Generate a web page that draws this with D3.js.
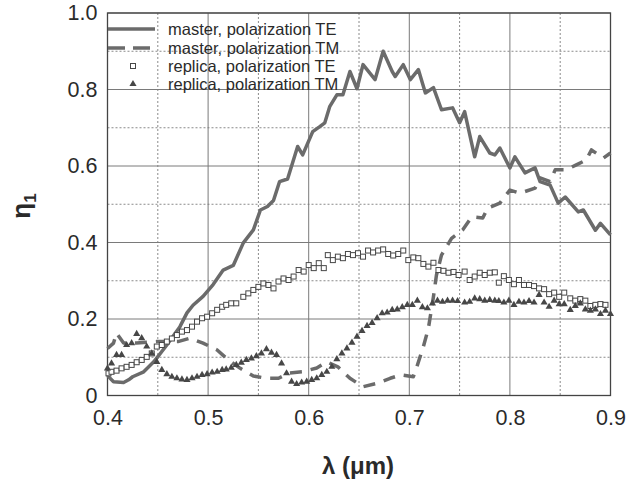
<!DOCTYPE html>
<html>
<head>
<meta charset="utf-8">
<script src="https://cdn.jsdelivr.net/npm/d3@7"></script>
<style>
  body { margin: 0; background: #fff; }
  text { font-family: "Liberation Sans", Arial, sans-serif; fill: #2a2a2a; }
</style>
</head>
<body>
<script>
// values: [wavelength (um), efficiency]
var masterTE = [
  [0.400, 0.052], [0.406, 0.036], [0.416, 0.034], [0.421, 0.041], [0.425, 0.049],
  [0.436, 0.062], [0.446, 0.088], [0.459, 0.132], [0.465, 0.154], [0.472, 0.180],
  [0.479, 0.216], [0.485, 0.236], [0.495, 0.259], [0.505, 0.290], [0.515, 0.328],
  [0.525, 0.340], [0.535, 0.399], [0.545, 0.433], [0.552, 0.485], [0.559, 0.494],
  [0.565, 0.510], [0.571, 0.559], [0.579, 0.566], [0.589, 0.651], [0.594, 0.629],
  [0.604, 0.690], [0.611, 0.703], [0.616, 0.713], [0.621, 0.756], [0.628, 0.786],
  [0.634, 0.786], [0.641, 0.847], [0.648, 0.802], [0.654, 0.865], [0.666, 0.826],
  [0.674, 0.900], [0.683, 0.847], [0.686, 0.834], [0.694, 0.865], [0.701, 0.826],
  [0.709, 0.852], [0.716, 0.791], [0.724, 0.805], [0.732, 0.747], [0.743, 0.752],
  [0.750, 0.713], [0.755, 0.742], [0.765, 0.624], [0.770, 0.677], [0.780, 0.634],
  [0.785, 0.629], [0.790, 0.647], [0.800, 0.595], [0.805, 0.624], [0.815, 0.582],
  [0.825, 0.595], [0.830, 0.559], [0.840, 0.550], [0.848, 0.503], [0.855, 0.519],
  [0.868, 0.480], [0.873, 0.485], [0.885, 0.432], [0.890, 0.450], [0.900, 0.420]
];

var masterTM = [
  [0.400, 0.123], [0.406, 0.137], [0.409, 0.163], [0.416, 0.137], [0.429, 0.137],
  [0.449, 0.141], [0.459, 0.141], [0.470, 0.141], [0.482, 0.150], [0.495, 0.137],
  [0.509, 0.119], [0.520, 0.093], [0.532, 0.071], [0.545, 0.051], [0.558, 0.045],
  [0.570, 0.045], [0.581, 0.059], [0.594, 0.062], [0.608, 0.072], [0.618, 0.088],
  [0.629, 0.075], [0.641, 0.045], [0.654, 0.023], [0.668, 0.032], [0.681, 0.045],
  [0.692, 0.054], [0.704, 0.049], [0.707, 0.071], [0.714, 0.128], [0.719, 0.176],
  [0.724, 0.258], [0.727, 0.315], [0.732, 0.367], [0.742, 0.411], [0.753, 0.433],
  [0.762, 0.467], [0.773, 0.464], [0.778, 0.490], [0.790, 0.503], [0.800, 0.537],
  [0.810, 0.529], [0.825, 0.542], [0.830, 0.569], [0.840, 0.559], [0.845, 0.590],
  [0.856, 0.590], [0.866, 0.603], [0.876, 0.616], [0.881, 0.642], [0.893, 0.621],
  [0.900, 0.634]
];

var replicaTE = [
  [0.401, 0.058], [0.404, 0.062], [0.409, 0.065], [0.414, 0.071], [0.419, 0.075],
  [0.424, 0.080], [0.429, 0.087], [0.434, 0.093], [0.439, 0.101], [0.444, 0.110],
  [0.449, 0.128], [0.454, 0.132], [0.459, 0.141], [0.464, 0.149], [0.469, 0.158],
  [0.474, 0.167], [0.479, 0.171], [0.484, 0.180], [0.489, 0.193], [0.494, 0.202],
  [0.499, 0.206], [0.504, 0.215], [0.509, 0.224], [0.514, 0.232], [0.518, 0.237],
  [0.523, 0.241], [0.528, 0.241], [0.535, 0.258], [0.540, 0.267], [0.545, 0.276],
  [0.550, 0.284], [0.555, 0.293], [0.560, 0.289], [0.565, 0.280], [0.570, 0.298],
  [0.575, 0.306], [0.580, 0.302], [0.585, 0.311], [0.590, 0.328], [0.595, 0.324],
  [0.600, 0.341], [0.605, 0.333], [0.610, 0.346], [0.615, 0.333], [0.619, 0.367],
  [0.624, 0.354], [0.629, 0.363], [0.634, 0.359], [0.639, 0.370], [0.644, 0.367],
  [0.649, 0.372], [0.654, 0.363], [0.659, 0.379], [0.664, 0.374], [0.669, 0.379],
  [0.674, 0.382], [0.679, 0.370], [0.684, 0.366], [0.689, 0.370], [0.694, 0.379],
  [0.699, 0.354], [0.704, 0.361], [0.709, 0.359], [0.714, 0.344], [0.719, 0.337],
  [0.724, 0.347], [0.729, 0.328], [0.734, 0.326], [0.739, 0.321], [0.744, 0.323],
  [0.749, 0.315], [0.755, 0.324], [0.760, 0.302], [0.765, 0.311], [0.770, 0.321],
  [0.775, 0.315], [0.780, 0.321], [0.785, 0.322], [0.789, 0.295], [0.794, 0.312],
  [0.799, 0.302], [0.804, 0.291], [0.809, 0.302], [0.814, 0.289], [0.819, 0.289],
  [0.824, 0.286], [0.829, 0.280], [0.834, 0.278], [0.839, 0.265], [0.844, 0.269],
  [0.849, 0.258], [0.854, 0.269], [0.860, 0.254], [0.865, 0.248], [0.870, 0.252],
  [0.875, 0.248], [0.880, 0.234], [0.885, 0.237], [0.890, 0.239], [0.895, 0.237]
];

var replicaTM = [
  [0.400, 0.071], [0.404, 0.084], [0.409, 0.106], [0.414, 0.106], [0.419, 0.132],
  [0.424, 0.137], [0.429, 0.161], [0.434, 0.150], [0.439, 0.128], [0.444, 0.110],
  [0.449, 0.088], [0.454, 0.067], [0.459, 0.056], [0.464, 0.049], [0.469, 0.045],
  [0.474, 0.042], [0.479, 0.041], [0.484, 0.045], [0.489, 0.049], [0.494, 0.054],
  [0.499, 0.056], [0.504, 0.060], [0.509, 0.062], [0.514, 0.067], [0.518, 0.068],
  [0.523, 0.073], [0.528, 0.080], [0.533, 0.086], [0.538, 0.093], [0.543, 0.097],
  [0.548, 0.103], [0.553, 0.110], [0.558, 0.121], [0.563, 0.112], [0.568, 0.106],
  [0.573, 0.084], [0.578, 0.058], [0.583, 0.036], [0.588, 0.030], [0.593, 0.034],
  [0.598, 0.036], [0.603, 0.041], [0.608, 0.045], [0.613, 0.054], [0.618, 0.062],
  [0.623, 0.075], [0.628, 0.095], [0.633, 0.110], [0.638, 0.123], [0.643, 0.138],
  [0.648, 0.154], [0.653, 0.169], [0.658, 0.182], [0.663, 0.190], [0.668, 0.202],
  [0.673, 0.215], [0.678, 0.217], [0.683, 0.224], [0.688, 0.225], [0.693, 0.231],
  [0.698, 0.237], [0.703, 0.237], [0.708, 0.248], [0.713, 0.231], [0.718, 0.228],
  [0.723, 0.241], [0.728, 0.248], [0.733, 0.245], [0.738, 0.248], [0.743, 0.248],
  [0.748, 0.247], [0.755, 0.243], [0.760, 0.245], [0.765, 0.254], [0.770, 0.252],
  [0.775, 0.248], [0.780, 0.250], [0.785, 0.248], [0.789, 0.247], [0.794, 0.243],
  [0.799, 0.248], [0.804, 0.237], [0.809, 0.245], [0.814, 0.243], [0.819, 0.247],
  [0.824, 0.243], [0.829, 0.263], [0.834, 0.243], [0.839, 0.232], [0.844, 0.248],
  [0.849, 0.239], [0.854, 0.239], [0.860, 0.224], [0.865, 0.234], [0.870, 0.241],
  [0.875, 0.225], [0.880, 0.222], [0.885, 0.225], [0.890, 0.213], [0.895, 0.222],
  [0.900, 0.213]
];

var xMajor = [0.4, 0.5, 0.6, 0.7, 0.8, 0.9];
var xMinor = [0.45, 0.55, 0.65, 0.75, 0.85];
var yMajor = [0, 0.2, 0.4, 0.6, 0.8, 1.0];
var yMinor = [0.1, 0.3, 0.5, 0.7, 0.9];
var legendLabels = [
  "master, polarization TE",
  "master, polarization TM",
  "replica, polarization TE",
  "replica, polarization TM"
];

var W = 627, H = 485;
var pLeft = 107.5, pRight = 610.5, pTop = 13, pBottom = 395.5;
var lineGray = "#6b6b6b", markGray = "#474747";

var svg = d3.select("body").append("svg")
  .attr("width", W)
  .attr("height", H);

var x = d3.scaleLinear().domain([0.4, 0.9]).range([pLeft, pRight]);
var y = d3.scaleLinear().domain([0, 1]).range([pBottom, pTop]);

// grid
var grid = svg.append("g");
grid.selectAll(".xminor").data(xMinor).enter().append("line")
  .attr("x1", function(d){ return x(d); }).attr("x2", function(d){ return x(d); })
  .attr("y1", pTop).attr("y2", pBottom)
  .attr("stroke", "#8a8a8a").attr("stroke-width", 1).attr("stroke-dasharray", "2,2");
grid.selectAll(".yminor").data(yMinor).enter().append("line")
  .attr("x1", pLeft).attr("x2", pRight)
  .attr("y1", function(d){ return y(d); }).attr("y2", function(d){ return y(d); })
  .attr("stroke", "#8a8a8a").attr("stroke-width", 1).attr("stroke-dasharray", "2,2");
grid.selectAll(".xmajor").data(xMajor).enter().append("line")
  .attr("x1", function(d){ return x(d); }).attr("x2", function(d){ return x(d); })
  .attr("y1", pTop).attr("y2", pBottom)
  .attr("stroke", "#7a7a7a").attr("stroke-width", 1);
grid.selectAll(".ymajor").data(yMajor).enter().append("line")
  .attr("x1", pLeft).attr("x2", pRight)
  .attr("y1", function(d){ return y(d); }).attr("y2", function(d){ return y(d); })
  .attr("stroke", "#7a7a7a").attr("stroke-width", 1);

svg.append("rect")
  .attr("x", pLeft).attr("y", pTop)
  .attr("width", pRight - pLeft).attr("height", pBottom - pTop)
  .attr("fill", "none").attr("stroke", "#444").attr("stroke-width", 1.3);

// axes labels
var xAxis = d3.axisBottom(x).tickValues(xMajor).tickSize(0).tickPadding(14)
  .tickFormat(d3.format(".1f"));
var gx = svg.append("g").attr("transform", "translate(0," + pBottom + ")").call(xAxis);
gx.select(".domain").remove();
gx.selectAll("text").style("font-size", "21.5px").attr("fill", "#2a2a2a");

var yAxis = d3.axisLeft(y).tickValues(yMajor).tickSize(0).tickPadding(10)
  .tickFormat(function(d){ return d === 0 ? "0" : d3.format(".1f")(d); });
var gy = svg.append("g").attr("transform", "translate(" + pLeft + ",0)").call(yAxis);
gy.select(".domain").remove();
gy.selectAll("text").style("font-size", "21.5px").attr("fill", "#2a2a2a");

svg.append("text")
  .attr("x", 358).attr("y", 474)
  .attr("text-anchor", "middle")
  .style("font-size", "24px").style("font-weight", "bold")
  .text("λ (μm)");

var yt = svg.append("text")
  .attr("transform", "translate(30,206) rotate(-90)")
  .attr("text-anchor", "middle")
  .style("font-size", "26px").style("font-weight", "bold");
yt.append("tspan").text("η");
yt.append("tspan").attr("dy", 6).style("font-size", "17px").text("1");

// curves
var line = d3.line()
  .x(function(d){ return x(d[0]); })
  .y(function(d){ return y(d[1]); });

var plot = svg.append("g");
plot.append("path").datum(masterTM)
  .attr("d", line).attr("fill", "none")
  .attr("stroke", lineGray).attr("stroke-width", 3.5)
  .attr("stroke-dasharray", "12,9").attr("stroke-linejoin", "round");
plot.append("path").datum(masterTE)
  .attr("d", line).attr("fill", "none")
  .attr("stroke", lineGray).attr("stroke-width", 3.5)
  .attr("stroke-linejoin", "round");

plot.selectAll(".sq").data(replicaTE).enter().append("rect")
  .attr("x", function(d){ return x(d[0]) - 2.5; })
  .attr("y", function(d){ return y(d[1]) - 2.5; })
  .attr("width", 5).attr("height", 5)
  .attr("fill", "#fff").attr("stroke", markGray).attr("stroke-width", 1);

var tri = d3.symbol().type(d3.symbolTriangle).size(22);
plot.selectAll(".tri").data(replicaTM).enter().append("path")
  .attr("d", tri)
  .attr("transform", function(d){ return "translate(" + x(d[0]) + "," + y(d[1]) + ")"; })
  .attr("fill", markGray);

// legend
var leg = svg.append("g");
var rowY = [29, 48, 66, 84];
leg.append("line").attr("x1", 108).attr("x2", 155).attr("y1", rowY[0]).attr("y2", rowY[0])
  .attr("stroke", lineGray).attr("stroke-width", 3.5);
leg.append("line").attr("x1", 108).attr("x2", 155).attr("y1", rowY[1]).attr("y2", rowY[1])
  .attr("stroke", lineGray).attr("stroke-width", 3.5).attr("stroke-dasharray", "17,8");
leg.append("rect").attr("x", 130.5).attr("y", rowY[2] - 2.5).attr("width", 5).attr("height", 5)
  .attr("fill", "#fff").attr("stroke", markGray).attr("stroke-width", 1);
leg.append("path").attr("d", tri).attr("transform", "translate(133," + rowY[3] + ")")
  .attr("fill", markGray);
leg.selectAll(".lt").data(legendLabels).enter().append("text")
  .attr("x", 168)
  .attr("y", function(d, i){ return rowY[i] + 5.5; })
  .style("font-size", "16.5px")
  .text(function(d){ return d; });
</script>
</body>
</html>
